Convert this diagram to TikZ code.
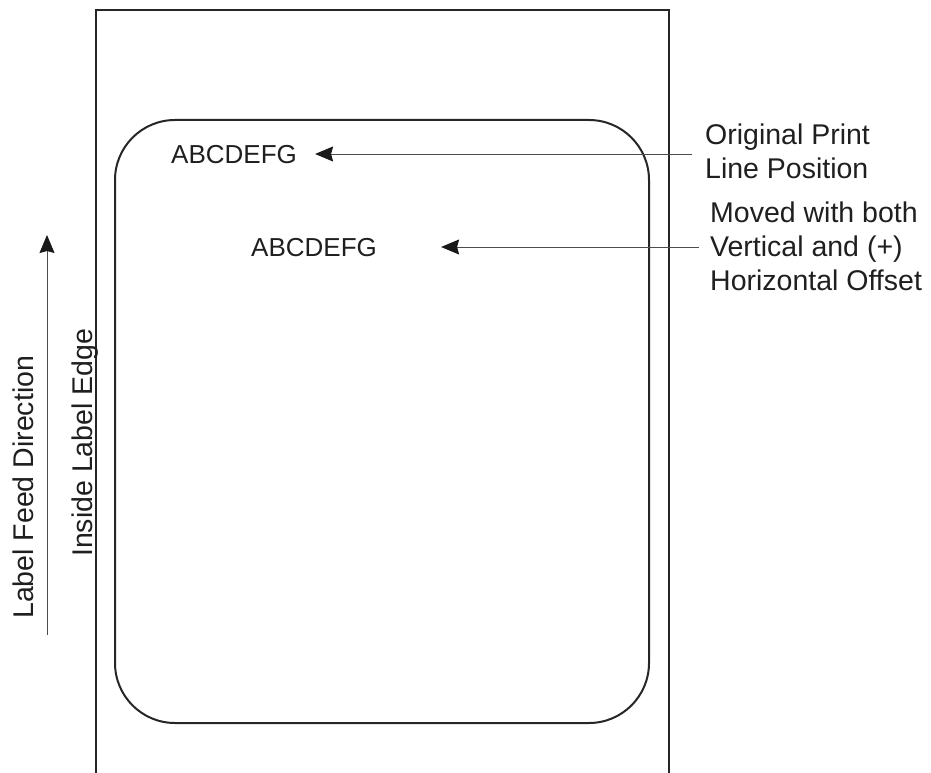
\documentclass[tikz,border=0pt]{standalone}
\usepackage{fontspec}
\setmainfont{Liberation Sans}
\usetikzlibrary{arrows.meta}
\begin{document}
\begin{tikzpicture}[x=1pt,y=-1pt,
  samp/.style={inner sep=0pt, anchor=base west, font=\fontsize{26}{26}\selectfont, text=black!88},
  lbl/.style={inner sep=0pt, anchor=base west, font=\fontsize{28.5}{28.5}\selectfont, text=black!88},
  pointer/.style={line width=0.9pt, draw=black!70, -{Stealth[length=18pt,width=15pt,inset=2pt,color=black!90]}},
  edgeline/.style={line width=2pt, draw=black!85}]
\useasboundingbox (0,0) rectangle (931,773);
% label stock edges
\draw[edgeline] (96,773) -- (96,10) -- (669,10) -- (669,773);
% inside label
\draw[edgeline, rounded corners=60pt] (115,120) rectangle (649,723);
% sample text
\node[samp] (orig) at (171,163) {ABCDEFG};
\node[samp] (moved) at (251,256) {ABCDEFG};
% right labels
\node[lbl] (o1) at (705,145) {Original Print};
\node[lbl] (o2) at (705,178) {Line Position};
\node[lbl] (m1) at (710,222) {Moved with both};
\node[lbl] (m2) at (710,256) {Vertical and (+)};
\node[lbl] (m3) at (710,290) {Horizontal Offset};
% left labels
\node[lbl, rotate=90] (feed) at (33,619) {Label Feed Direction};
\node[lbl, rotate=90] (inside) at (92,557) {Inside Label Edge};
% arrows
\coordinate (a1) at (692,154);
\path ([xshift=18pt]orig.east) coordinate (t1);
\draw[pointer] (a1) -- (t1 |- a1);
\coordinate (a2) at (699,247);
\path ([xshift=64pt]moved.east) coordinate (t2);
\draw[pointer] (a2) -- (t2 |- a2);
\coordinate (f0) at (47,635);
\coordinate (f1) at (47,235);
\draw[pointer] (f0) -- (f1);
\end{tikzpicture}
\end{document}
